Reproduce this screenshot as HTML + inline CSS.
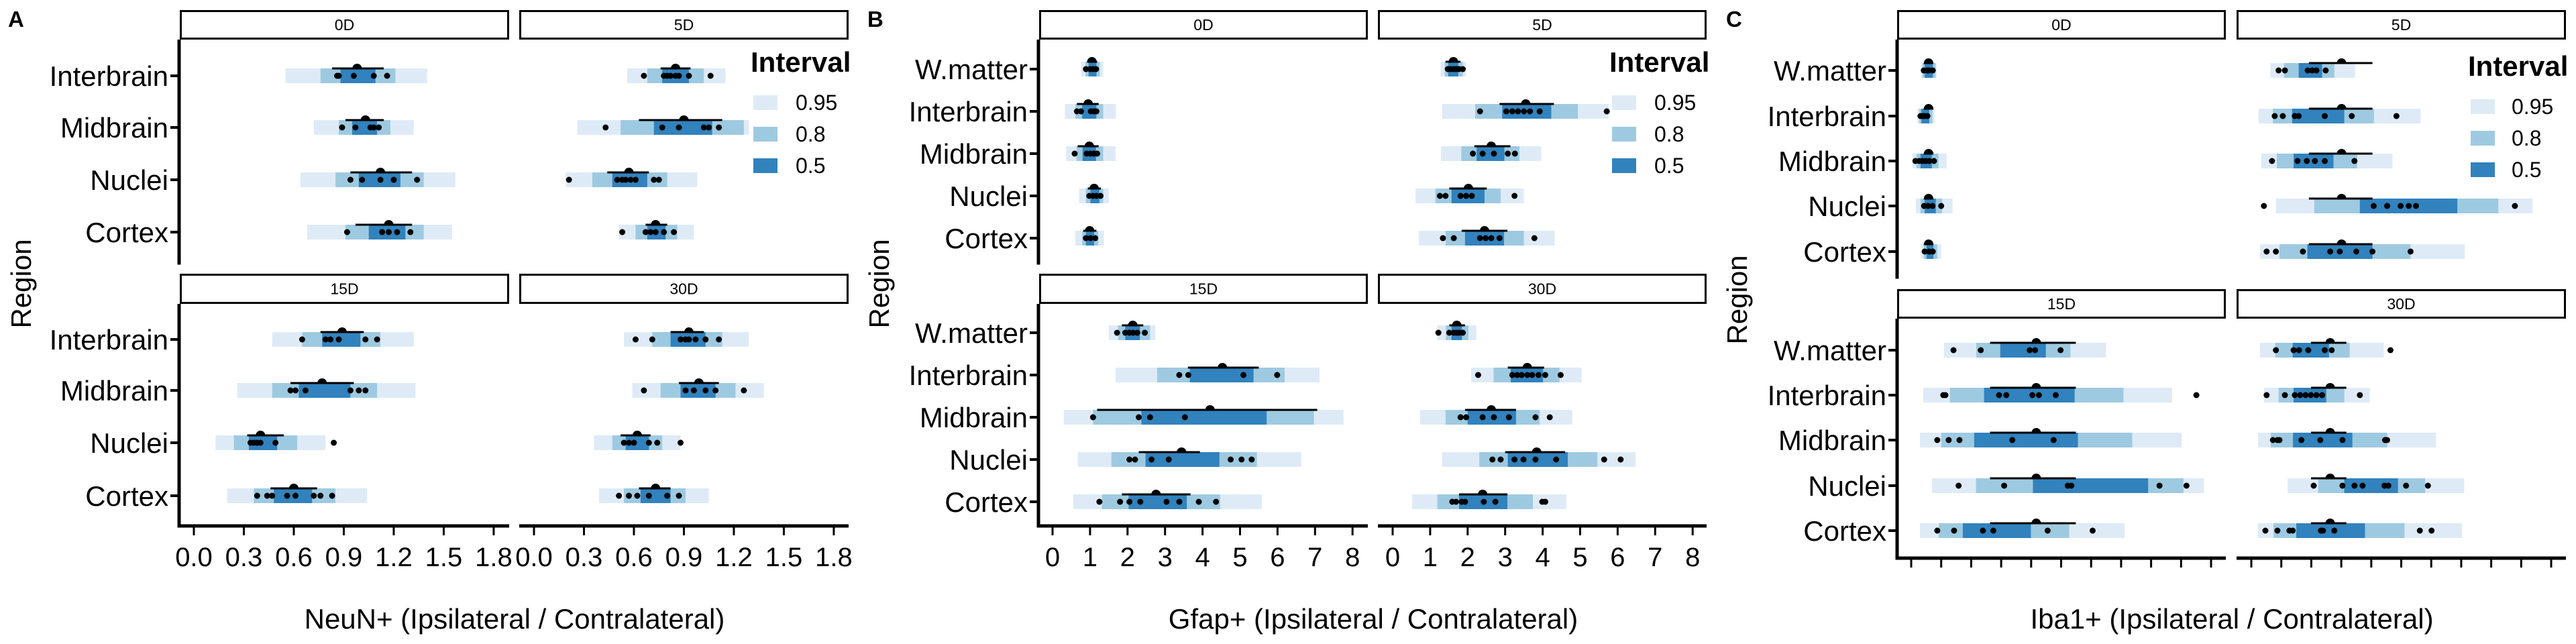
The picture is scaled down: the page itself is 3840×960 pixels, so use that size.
<!DOCTYPE html>
<html><head><meta charset="utf-8"><title>Regional cell ratios</title>
<style>html,body{margin:0;padding:0;background:#fff}svg{display:block;font-family:"Liberation Sans",sans-serif}</style>
</head><body>
<svg id="chart" width="3840" height="960" viewBox="0 0 3840 960" xmlns="http://www.w3.org/2000/svg"></svg>
<script>
// ===== data: facets 0D,5D,15D,30D; rows top->bottom =====
const facetNames = ["0D","5D","15D","30D"];
const neunRows = ["Interbrain","Midbrain","Nuclei","Cortex"];
const otherRows = ["W.matter","Interbrain","Midbrain","Nuclei","Cortex"];
const neunTicks = ["0.0","0.3","0.6","0.9","1.2","1.5","1.8"];
const gfapTicks = ["0","1","2","3","4","5","6","7","8"];
const ibaTicks = ["","","","","","","","","","",""];

const neun_ci95 = [
 [[0.55,1.40],[0.72,1.32],[0.64,1.57],[0.68,1.55]],
 [[0.56,1.15],[0.26,1.29],[0.19,0.98],[0.51,0.96]],
 [[0.47,1.32],[0.26,1.33],[0.13,0.79],[0.20,1.04]],
 [[0.54,1.29],[0.59,1.38],[0.36,0.88],[0.39,1.05]]];
const neun_ci80 = [
 [[0.76,1.21],[0.87,1.18],[0.85,1.38],[0.91,1.38]],
 [[0.68,1.02],[0.52,1.26],[0.35,0.80],[0.61,0.86]],
 [[0.65,1.12],[0.47,1.10],[0.24,0.62],[0.36,0.85]],
 [[0.71,1.13],[0.76,1.21],[0.47,0.77],[0.54,0.91]]];
const neun_ci50 = [
 [[0.88,1.09],[0.95,1.10],[0.99,1.24],[1.05,1.27]],
 [[0.77,0.93],[0.72,1.07],[0.47,0.68],[0.68,0.79]],
 [[0.77,1.00],[0.63,0.94],[0.33,0.50],[0.48,0.71]],
 [[0.82,1.03],[0.88,1.09],[0.55,0.69],[0.64,0.82]]];
const neun_mean = [[0.98,1.03,1.12,1.17],[0.85,0.90,0.57,0.73],[0.89,0.77,0.40,0.60],[0.93,0.99,0.62,0.73]];
const neun_meanci = [
 [[0.83,1.14],[0.91,1.14],[0.94,1.31],[0.97,1.31]],
 [[0.76,0.94],[0.63,1.13],[0.44,0.69],[0.67,0.80]],
 [[0.76,1.02],[0.58,0.96],[0.32,0.54],[0.46,0.74]],
 [[0.82,1.02],[0.87,1.11],[0.52,0.70],[0.63,0.82]]];
const neun_points = [
 [[0.86,0.87,0.96,1.08,1.16],[0.89,0.97,1.06,1.08,1.11],[0.94,1.01,1.12,1.20,1.34],[0.92,1.13,1.17,1.22,1.30]],
 [[0.66,0.78,0.80,0.82,0.85,0.87,0.93,1.06],[0.43,0.77,0.87,1.02,1.05,1.11],[0.21,0.50,0.53,0.55,0.58,0.61,0.72,0.75],[0.53,0.67,0.70,0.73,0.78,0.84]],
 [[0.65,0.79,0.82,0.87,1.03,1.10],[0.58,0.61,0.67,0.94,0.99,1.03],[0.34,0.36,0.38,0.40,0.49,0.84],[0.38,0.44,0.47,0.56,0.61,0.72,0.76,0.83]],
 [[0.61,0.71,0.88,0.91,0.93,0.97,1.03,1.11],[0.66,0.91,0.96,1.03,1.09,1.26],[0.54,0.57,0.60,0.69,0.74,0.88],[0.51,0.57,0.62,0.69,0.80,0.87]]];

const gfap_ci95 = [
 [[0.76,1.35],[0.33,1.69],[0.36,1.68],[0.71,1.50],[0.61,1.37]],
 [[1.28,1.96],[1.32,5.76],[1.29,3.96],[0.61,3.50],[0.70,4.32]],
 [[1.50,2.74],[1.68,7.12],[0.30,7.76],[0.67,6.63],[0.55,5.58]],
 [[1.19,2.23],[2.09,5.04],[0.73,4.79],[1.32,6.48],[0.52,4.63]]];
const gfap_ci80 = [
 [[0.88,1.26],[0.61,1.35],[0.64,1.35],[0.89,1.35],[0.79,1.22]],
 [[1.39,1.87],[2.20,4.94],[1.83,3.38],[1.14,2.88],[1.41,3.50]],
 [[1.75,2.60],[2.79,6.19],[1.08,6.97],[1.57,5.45],[1.32,4.47]],
 [[1.42,2.02],[2.69,4.45],[1.41,3.92],[2.31,5.46],[1.19,3.74]]];
const gfap_ci50 = [
 [[0.96,1.17],[0.79,1.17],[0.80,1.16],[1.01,1.25],[0.89,1.11]],
 [[1.48,1.75],[2.92,4.23],[2.24,2.98],[1.57,2.45],[1.93,2.97]],
 [[1.94,2.33],[3.66,5.36],[2.37,5.71],[2.48,4.45],[2.03,3.58]],
 [[1.57,1.85],[3.15,4.01],[2.00,3.29],[3.07,4.67],[1.77,3.06]]];
const gfap_mean = [[1.05,0.95,0.98,1.11,0.99],[1.62,3.55,2.63,2.02,2.45],[2.14,4.53,4.20,3.44,2.76],[1.71,3.59,2.63,3.84,2.40]];
const gfap_meanci = [
 [[0.92,1.19],[0.65,1.23],[0.67,1.23],[0.94,1.29],[0.82,1.17]],
 [[1.41,1.81],[2.85,4.30],[2.18,3.14],[1.51,2.51],[1.84,3.06]],
 [[1.85,2.42],[3.61,5.50],[1.19,7.06],[2.30,3.93],[1.85,3.68]],
 [[1.51,1.93],[3.07,4.04],[1.93,3.29],[3.00,4.60],[1.77,3.06]]];
const gfap_points = [
 [[0.89,1.00,1.08,1.16],[0.65,0.76,1.02,1.11,1.17],[0.59,0.91,1.01,1.10,1.19],[0.98,1.08,1.17,1.28],[0.89,1.01,1.14]],
 [[1.47,1.54,1.62,1.69,1.77,1.87],[2.33,3.03,3.19,3.34,3.50,3.66,3.92,5.71],[2.14,2.40,2.70,3.07,3.26],[1.26,1.41,1.81,1.96,2.11,3.25],[1.34,1.63,2.33,2.48,2.63,2.85,3.78]],
 [[1.72,1.94,2.05,2.15,2.26,2.46],[3.38,3.62,5.09,5.99],[1.08,2.30,2.60,3.53],[2.05,2.20,2.64,3.10,4.75,5.04,5.31],[1.25,1.80,2.05,2.34,3.04,3.38,3.90,4.36]],
 [[1.22,1.51,1.63,1.71,1.78,1.87],[2.28,3.19,3.32,3.44,3.59,3.72,3.89,4.07,4.48],[1.81,1.96,2.40,2.70,3.10,3.81,4.19],[2.66,2.88,3.25,3.49,3.81,4.36,5.64,6.08],[1.59,1.69,1.84,1.93,2.43,2.74,3.99,4.07]]];

const iba_ci95 = [
 [[0.33,0.85],[0.20,0.78],[0.04,1.18],[0.16,1.38],[0.33,1.00]],
 [[0.63,3.46],[0.24,5.65],[0.33,4.71],[0.82,9.38],[0.29,7.12]],
 [[1.09,6.50],[0.40,8.70],[0.29,9.02],[0.69,9.76],[0.29,7.12]],
 [[0.29,4.42],[0.42,3.95],[0.22,6.16],[1.21,7.10],[0.22,7.03]]];
const iba_ci80 = [
 [[0.38,0.81],[0.27,0.71],[0.18,0.91],[0.31,1.03],[0.42,0.87]],
 [[1.09,2.77],[0.72,4.09],[0.85,3.53],[2.10,8.24],[0.94,5.31]],
 [[2.17,5.31],[1.29,7.08],[1.00,7.37],[2.16,9.08],[0.92,5.27]],
 [[0.80,3.28],[0.91,3.10],[0.65,4.53],[2.23,5.80],[0.74,5.11]]];
const iba_ci50 = [
 [[0.45,0.72],[0.34,0.60],[0.31,0.69],[0.45,0.82],[0.51,0.74]],
 [[1.58,2.36],[1.36,3.10],[1.41,2.74],[3.62,6.87],[1.87,4.04]],
 [[2.97,4.49],[2.43,5.45],[2.10,5.56],[4.06,7.90],[1.72,3.99]],
 [[1.38,2.59],[1.41,2.50],[1.39,3.37],[3.10,4.89],[1.50,3.79]]];
const iba_mean = [[0.58,0.58,0.58,0.58,0.58],[3.01,3.01,3.01,3.01,3.01],[4.17,4.17,4.17,4.17,4.17],[2.63,2.63,2.63,2.63,2.63]];
const iba_meanci = [
 [[0.42,0.74],[0.42,0.74],[0.42,0.74],[0.42,0.74],[0.42,0.74]],
 [[1.92,4.04],[1.92,4.04],[1.92,4.04],[1.92,4.04],[1.92,4.04]],
 [[2.63,5.49],[2.63,5.49],[2.63,5.49],[2.63,5.49],[2.63,5.49]],
 [[1.99,3.17],[1.99,3.17],[1.99,3.17],[1.99,3.17],[1.99,3.17]]];
const iba_points = [
 [[0.42,0.54,0.60,0.72],[0.31,0.38,0.45,0.54],[0.14,0.27,0.38,0.49,0.60,0.76],[0.43,0.56,0.71,1.00],[0.45,0.60,0.72]],
 [[0.91,1.12,1.88,2.03,2.17,2.48],[0.78,1.05,1.45,1.58,2.45,3.35,4.84],[0.69,1.54,1.85,2.12,2.45,3.44],[0.42,4.08,4.53,4.98,5.25,5.49,8.79],[0.51,0.82,1.72,2.63,2.95,3.50,4.04,5.31]],
 [[1.41,2.32,3.95,4.13,4.98],[1.07,1.14,2.93,3.17,4.04,4.26,4.82,9.51],[0.87,1.25,1.61,3.37,4.75],[1.58,3.10,5.22,5.34,8.28,9.18],[0.87,1.43,2.39,2.74,4.55,6.05]],
 [[0.82,1.41,1.59,1.90,2.45,2.68,4.64],[0.51,1.12,1.45,1.63,1.81,1.99,2.17,2.36,3.62],[0.72,0.87,0.94,1.67,2.30,3.04,4.46,4.53],[2.08,3.04,3.44,3.71,4.44,4.57,5.16,5.89],[0.47,0.87,1.27,1.38,2.32,2.39,2.77,5.62,6.01]]];

// ===== drawing =====
const NS = "http://www.w3.org/2000/svg";
const svg = document.getElementById("chart");
const C95 = "#deebf7", C80 = "#9ecae1", C50 = "#3182bd";
function mk(tag, attrs, parent) {
  const e = document.createElementNS(NS, tag);
  for (const k in attrs) e.setAttribute(k, attrs[k]);
  (parent || svg).appendChild(e);
  return e;
}
function txt(s, attrs, parent) { const e = mk("text", attrs, parent); e.textContent = s; return e; }

function drawChart(cfg) {
  const g = mk("g", {});
  
  
  const L = txt(cfg.letter, {x: cfg.letterX, y: 40, "font-size": 33, "font-weight": "bold"}, g);
  
  

  facetNames.forEach((fname, fi) => {
    const col = fi % 2, row = Math.floor(fi / 2);
    const x0 = cfg.colX[col][0], x1 = cfg.colX[col][1];
    const st = cfg.stripY[row], pl = cfg.plotY[row];
    const xs = v => cfg.zeroX[col] + v * cfg.unit;
    const fg = mk("g", {}, g);
    
    
    const sr = mk("rect", {x: x0 + 1.5, y: st[0] + 1.5, width: x1 - x0 - 3, height: st[1] - st[0] - 3, fill: "#fff", stroke: "#000", "stroke-width": 3}, fg);
    
    
    const stx = txt(fname, {x: (x0 + x1) / 2, y: (st[0] + st[1]) / 2 + 8, "font-size": 23, "text-anchor": "middle"}, fg);
    
    

    cfg.rows.forEach((rname, ri) => {
      const y = cfg.rowY[row][ri];
      const bh = 22;
      const rg = mk("g", {}, fg);
      
      
      [[cfg.ci95, C95], [cfg.ci80, C80], [cfg.ci50, C50]].forEach(([arr, c]) => {
        const iv = arr[fi][ri];
        const r = mk("rect", {x: xs(iv[0]), y: y - bh / 2, width: xs(iv[1]) - xs(iv[0]), height: bh, fill: c}, rg);
        
        
      });
      const mc = cfg.meanci[fi][ri];
      const ml = mk("line", {x1: xs(mc[0]), x2: xs(mc[1]), y1: y - bh / 2, y2: y - bh / 2, stroke: "#000", "stroke-width": 3}, rg);
      
      
      const m = xs(cfg.mean[fi][ri]), ty = y - bh / 2, rr = 7;
      const md = mk("path", {d: `M${m - rr},${ty} A${rr},${rr} 0 0 1 ${m + rr},${ty} Z`, fill: "#000"}, rg);
      
      
      cfg.points[fi][ri].forEach(v => {
        const c = mk("circle", {cx: xs(v), cy: y, r: 4.5, fill: "#000"}, rg);
        
        
      });
      if (col === 0) {
        const tk = mk("line", {x1: cfg.axisX - 13, x2: cfg.axisX, y1: y, y2: y, stroke: "#000", "stroke-width": 4}, fg);
        
        
        const lb = txt(rname, {x: cfg.axisX - 16, y: y + 15, "font-size": 42, "text-anchor": "end"}, fg);
        
        
      }
    });

    if (col === 0) {
      const ya = mk("line", {x1: cfg.axisX, x2: cfg.axisX, y1: pl[0], y2: pl[1] + 2.5, stroke: "#000", "stroke-width": 5}, fg);
      
      
    }
    if (row === 1) {
      const xa = mk("line", {x1: col === 0 ? cfg.axisX - 2.5 : x0, x2: x1, y1: pl[1], y2: pl[1], stroke: "#000", "stroke-width": 5}, fg);
      
      
      cfg.ticks.forEach((t, ti) => {
        const tx = xs(ti * cfg.tickStep);
        const tl = mk("line", {x1: tx, x2: tx, y1: pl[1], y2: pl[1] + 14, stroke: "#000", "stroke-width": 3}, fg);
        
        
        if (t) {
          const tt = txt(t, {x: tx, y: pl[1] + 60, "font-size": 40, "text-anchor": "middle"}, fg);
          
          
        }
      });
    }
  });

  const xt = txt(cfg.xTitle, {x: cfg.xTitleX, y: 937, "font-size": 42, "text-anchor": "middle"}, g);
  
  
  const yt = txt("Region", {x: 0, y: 0, "font-size": 42, "text-anchor": "middle", transform: `translate(${cfg.regionX},${cfg.regionY}) rotate(-90)`}, g);
  
  

  const lg = mk("g", {}, g);
  
  
  const lt = txt("Interval", {x: cfg.legX, y: cfg.legTitleY, "font-size": 42, "font-weight": "bold"}, lg);
  
  
  [["0.95", C95], ["0.8", C80], ["0.5", C50]].forEach(([lab, c], i) => {
    const ky = cfg.legKeyY[i];
    const kr = mk("rect", {x: cfg.legX + 4, y: ky, width: 36, height: 22, fill: c}, lg);
    
    
    const kt = txt(lab, {x: cfg.legLabX, y: ky + 22, "font-size": 32}, lg);
    
    
  });
}

drawChart({name: "neun-chart", letter: "A", letterX: 12, rows: neunRows,
  colX: [[268, 759], [774, 1265]], zeroX: [289, 796], unit: 248.3, axisX: 267,
  stripY: [[15, 59], [408, 453]], plotY: [[59, 392], [453, 784]],
  rowY: [[113, 190, 268, 346], [506, 582, 660, 739]],
  ticks: neunTicks, tickStep: 0.3,
  ci95: neun_ci95, ci80: neun_ci80, ci50: neun_ci50, mean: neun_mean, meanci: neun_meanci, points: neun_points,
  xTitle: "NeuN+ (Ipsilateral / Contralateral)", xTitleX: 767, regionX: 46, regionY: 423,
  legX: 1119, legTitleY: 107, legKeyY: [142, 189, 236], legLabX: 1186});

drawChart({name: "gfap-chart", letter: "B", letterX: 1293, rows: otherRows,
  colX: [[1549, 2039], [2054, 2544]], zeroX: [1569, 2076], unit: 55.9, axisX: 1548,
  stripY: [[15, 59], [408, 453]], plotY: [[59, 392], [453, 784]],
  rowY: [[103, 166, 229, 292, 355], [496, 559, 622, 685, 748]],
  ticks: gfapTicks, tickStep: 1,
  ci95: gfap_ci95, ci80: gfap_ci80, ci50: gfap_ci50, mean: gfap_mean, meanci: gfap_meanci, points: gfap_points,
  xTitle: "Gfap+ (Ipsilateral / Contralateral)", xTitleX: 2047, regionX: 1325, regionY: 423,
  legX: 2399, legTitleY: 107, legKeyY: [142, 189, 236], legLabX: 2466});

drawChart({name: "iba1-chart", letter: "C", letterX: 2573, rows: otherRows,
  colX: [[2828, 3318], [3334, 3825]], zeroX: [2849, 3356], unit: 44.7, axisX: 2828,
  stripY: [[15, 59], [431, 475]], plotY: [[59, 413], [475, 832]],
  rowY: [[105, 173, 240, 307, 375], [522, 589, 656, 724, 791]],
  ticks: ibaTicks, tickStep: 1,
  ci95: iba_ci95, ci80: iba_ci80, ci50: iba_ci50, mean: iba_mean, meanci: iba_meanci, points: iba_points,
  xTitle: "Iba1+ (Ipsilateral / Contralateral)", xTitleX: 3327, regionX: 2604, regionY: 447,
  legX: 3679, legTitleY: 113, legKeyY: [148, 195, 242], legLabX: 3744});
</script>
</body></html>
